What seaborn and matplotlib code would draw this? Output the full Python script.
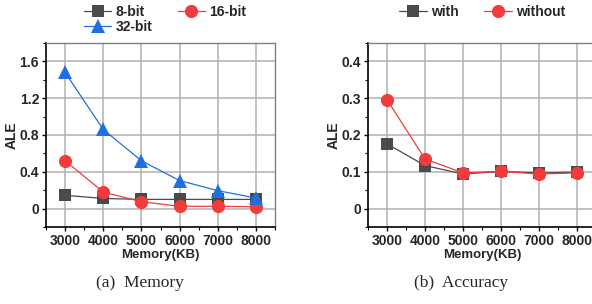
import numpy as np
import pandas as pd
import seaborn as sns
import matplotlib.pyplot as plt
from matplotlib.ticker import MultipleLocator

# data
memory = [3000, 4000, 5000, 6000, 7000, 8000]
ale_8bit = [0.145, 0.11, 0.10, 0.10, 0.10, 0.10]
ale_16bit = [0.52, 0.18, 0.075, 0.025, 0.025, 0.02]
ale_32bit = [1.48, 0.86, 0.52, 0.305, 0.195, 0.115]
ale_with = [0.176, 0.117, 0.094, 0.101, 0.097, 0.099]
ale_without = [0.296, 0.135, 0.097, 0.101, 0.094, 0.097]

sns.set_theme(style='white')
plt.rcParams['font.family'] = ['Liberation Sans', 'DejaVu Sans']
plt.rcParams['font.weight'] = 'bold'

GRAY, RED, BLUE = '#4a4a4a', '#f23c3c', '#1f6fe0'

fig = plt.figure(figsize=(5.92, 3.04), dpi=100)
ax1 = fig.add_axes([46/592, 1-227/304, 229/592, 184/304])
ax2 = fig.add_axes([368/592, 1-227/304, 228/592, 184/304])

def draw(ax, y, label, color, marker, ms):
    sns.lineplot(x=memory, y=y, ax=ax, color=color, lw=0.9, marker=marker,
                 markersize=ms, markeredgewidth=0, label=label)

draw(ax1, ale_8bit, '8-bit', GRAY, 's', 9)
draw(ax1, ale_16bit, '16-bit', RED, 'o', 9.5)
draw(ax1, ale_32bit, '32-bit', BLUE, '^', 10.5)
draw(ax2, ale_with, 'with', GRAY, 's', 9)
draw(ax2, ale_without, 'without', RED, 'o', 9.5)

ax1.set_ylim(-0.2, 1.8)
ax1.yaxis.set_major_locator(MultipleLocator(0.4))
ax1.yaxis.set_minor_locator(MultipleLocator(0.2))
ax2.set_ylim(-0.05, 0.45)
ax2.yaxis.set_major_locator(MultipleLocator(0.1))
ax2.yaxis.set_minor_locator(MultipleLocator(0.05))

for ax in [ax1, ax2]:
    ax.set_xlim(2500, 8500)
    ax.xaxis.set_major_locator(MultipleLocator(1000))
    ax.xaxis.set_minor_locator(MultipleLocator(500))
    ax.yaxis.set_major_formatter(plt.FuncFormatter(lambda v, p: '0' if abs(v) < 1e-9 else f'{v:g}'))
    ax.grid(True, which='major', color='#b0b0b0', lw=1.1)
    ax.set_axisbelow(True)
    for s in ['top', 'right']:
        ax.spines[s].set_color('#808080')
        ax.spines[s].set_linewidth(1.0)
    for s in ['left', 'bottom']:
        ax.spines[s].set_color('black')
        ax.spines[s].set_linewidth(1.2)
    ax.tick_params(which='major', direction='out', length=3, width=1, color='black',
                   labelsize=10, left=True, bottom=True, pad=2)
    ax.tick_params(which='minor', direction='out', length=2, width=0.8, color='black',
                   left=True, bottom=True)
    ax.set_xlabel('Memory(KB)', fontsize=9.5, fontweight='bold', labelpad=1)
    ax.set_ylabel('ALE', fontsize=10, fontweight='bold', labelpad=1)
    for t in ax.get_xticklabels() + ax.get_yticklabels():
        t.set_fontweight('bold')

# sub-captions
fig.text(140/592, 1-283/304, '(a)  Memory', ha='center', va='center',
         fontsize=12.5, family='Liberation Serif', fontweight='normal')
fig.text(461/592, 1-283/304, '(b)  Accuracy', ha='center', va='center',
         fontsize=12.5, family='Liberation Serif', fontweight='normal')

# legends sit at the top of the figure; order so 8-bit/16-bit share the first row
leg_kw = dict(loc='upper center', ncol=2, frameon=False, handlelength=2.0,
              columnspacing=1.8, handletextpad=0.3, labelspacing=0.1,
              borderaxespad=0, prop={'weight': 'bold', 'size': 10})
h, l = ax1.get_legend_handles_labels()
order = [0, 2, 1]
ax1.legend([h[i] for i in order], [l[i] for i in order],
           bbox_to_anchor=(0.52, 1 + 44/184), **leg_kw)
ax2.legend(bbox_to_anchor=(0.5, 1 + 44/184), **leg_kw)

fig.savefig('out.png', dpi=100)
